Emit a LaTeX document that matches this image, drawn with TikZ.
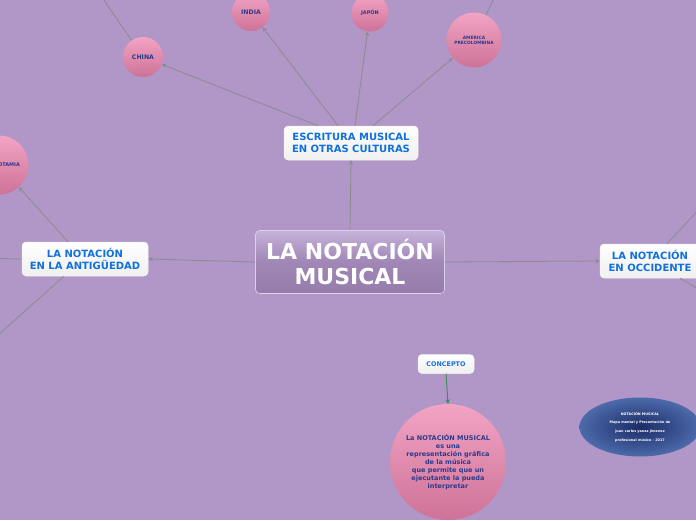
\documentclass[tikz,border=0pt]{standalone}
\usepackage{fontspec}
\setmainfont{DejaVu Sans}
\usetikzlibrary{arrows.meta,shapes.geometric}
\definecolor{bg}{RGB}{177,150,200}
\definecolor{edgec}{RGB}{140,140,140}
\definecolor{boxtxt}{RGB}{16,112,220}
\definecolor{circtxt}{RGB}{44,58,140}
\definecolor{pinktop}{RGB}{242,164,196}
\definecolor{pinkbot}{RGB}{206,114,152}
\definecolor{ctop}{RGB}{198,178,218}
\definecolor{cbot}{RGB}{150,124,172}
\definecolor{navy}{RGB}{28,44,104}
\definecolor{navyedge}{RGB}{76,106,170}
\definecolor{greenc}{RGB}{50,140,90}
\tikzset{
  edge/.style={draw=edgec, line width=0.8pt},
  arr/.style={edge, -{Stealth[length=4.5pt,width=4.5pt]}},
  wbox/.style={rectangle, rounded corners=4pt, draw=white!90!gray, line width=0.5pt,
    top color=white, bottom color=white!88!gray, text=boxtxt, font=\bfseries,
    align=center, inner sep=0pt},
  pcirc/.style={circle, draw=none, top color=pinktop, bottom color=pinkbot,
    text=circtxt, font=\bfseries, align=center, inner sep=0pt},
}
\begin{document}
\begin{tikzpicture}[x=1pt,y=-1pt]
\useasboundingbox (0,0) rectangle (696,520);
\clip (0,0) rectangle (696,520);
\fill[bg] (0,0) rectangle (696,520);

% central node
\node[rectangle, rounded corners=4pt, draw=white!40!ctop, line width=0.6pt,
  top color=ctop, bottom color=cbot, middle color=cbot!80!ctop,
  minimum width=189pt, minimum height=63pt, align=center, text=white,
  font=\fontsize{22}{25.5}\selectfont\bfseries] (center) at (350,262) {LA NOTACIÓN\\MUSICAL};

% main boxes
\node[wbox, minimum width=134pt, minimum height=34pt,
  font=\fontsize{10}{12.5}\selectfont\bfseries] (esc) at (351,143) {ESCRITURA MUSICAL\\EN OTRAS CULTURAS};
\node[wbox, minimum width=126pt, minimum height=34pt,
  font=\fontsize{10}{12.5}\selectfont\bfseries] (ant) at (85,259) {LA NOTACIÓN\\EN LA ANTIGÜEDAD};
\node[wbox, minimum width=100pt, minimum height=34pt,
  font=\fontsize{10}{12.5}\selectfont\bfseries] (occ) at (650,261) {LA NOTACIÓN\\EN OCCIDENTE};
\node[wbox, minimum width=56pt, minimum height=19pt,
  font=\fontsize{6.4}{8}\selectfont\bfseries] (concepto) at (446,364) {CONCEPTO};

% pink circles
\node[pcirc, minimum size=40pt, font=\fontsize{6.2}{7}\selectfont\bfseries] (china) at (143,57) {CHINA};
\node[pcirc, minimum size=38pt, font=\fontsize{6.2}{7}\selectfont\bfseries] (india) at (251,12) {INDIA};
\node[pcirc, minimum size=37pt, font=\fontsize{5}{6}\selectfont\bfseries] (japon) at (370,13) {JAPÓN};
\node[pcirc, minimum size=55pt, font=\fontsize{4.4}{5.3}\selectfont\bfseries] (america) at (474,40) {AMÉRICA\\PRECOLOMBINA};
\node[pcirc, minimum size=59pt, font=\fontsize{5}{6}\selectfont\bfseries] (meso) at (-1,165) {MESOPOTAMIA};
\node[pcirc, minimum size=116pt, font=\fontsize{6.5}{8.1}\selectfont\bfseries] (def) at (448,462)
  {La NOTACIÓN MUSICAL\\es una\\representación gráfica\\de la música\\que permite que un\\ejecutante la pueda\\interpretar};

% blue ellipse
\node[ellipse, draw=none, inner color=navy, outer color=navyedge,
  minimum width=121pt, minimum height=59pt, text=white, align=center,
  font=\fontsize{3.4}{8.6}\selectfont\bfseries] (info) at (640,427)
  {NOTACIÓN MUSICAL\\Mapa mental y Presentación de\\juan carlos yanza jimenez\\profesional músico - 2017};

% off-canvas coordinates
\coordinate (offA) at (90,-20);
\coordinate (offB) at (498,-10);
\coordinate (offC) at (-20,258);
\coordinate (offD) at (-20,351);
\coordinate (offE) at (716,191);
\coordinate (offF) at (716,299);

% connectors
\draw[arr] (center.north) -- (esc.south);
\draw[arr] (center.west) -- (ant.east);
\draw[arr] (center.east) -- (occ.west);
\draw[arr] ([xshift=-33pt]esc.north) -- (china);
\draw[arr] ([xshift=-13pt]esc.north) -- (india);
\draw[arr] ([xshift=4pt]esc.north) -- (japon);
\draw[arr] ([xshift=22pt]esc.north) -- (america);
\draw[edge] (china) -- (offA);
\draw[edge] (america) -- (offB);
\draw[arr] ([xshift=-17pt]ant.north) -- (meso);
\draw[edge] (ant.west) -- (offC);
\draw[edge] ([xshift=-21pt]ant.south) -- (offD);
\draw[edge] ([xshift=17pt]occ.north) -- (offE);
\draw[edge] ([xshift=30pt]occ.south) -- (offF);
\draw[draw=greenc!70!gray, line width=1pt, -{Stealth[length=4.5pt,width=4.5pt,color=greenc]}] (concepto.south) -- (def.north);
\end{tikzpicture}
\end{document}
